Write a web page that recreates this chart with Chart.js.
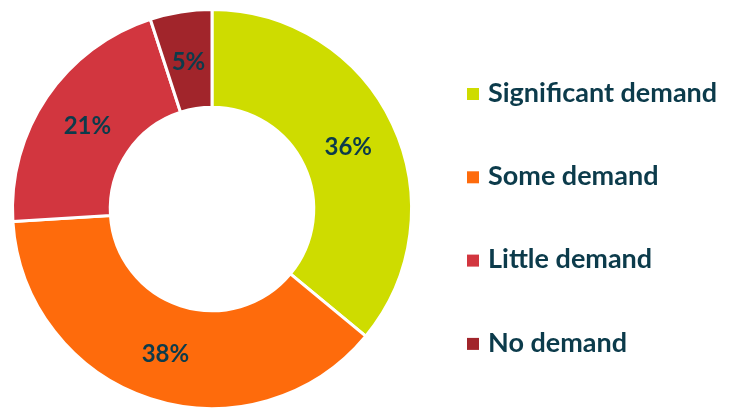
<!DOCTYPE html>
<html>
<head>
<meta charset="utf-8">
<script src="https://cdn.jsdelivr.net/npm/chart.js@4"></script>
<style>
  html, body { margin: 0; padding: 0; background: #ffffff; }
  #wrap { width: 736px; height: 410px; position: relative; }
</style>
</head>
<body>
<div id="wrap"><canvas id="myChart"></canvas></div>
<script>
const categories = ['Significant demand', 'Some demand', 'Little demand', 'No demand'];
const shares = [36, 38, 21, 5];
const sliceColors = ['#cedc00', '#fe6b0c', '#d2363f', '#a1252b'];
const textColor = '#0c3b4b';

// percent labels in the middle of each slice
const sliceLabels = {
  id: 'sliceLabels',
  afterDatasetsDraw(chart) {
    const ctx = chart.ctx;
    const meta = chart.getDatasetMeta(0);
    ctx.save();
    ctx.font = 'bold 24px Lato';
    ctx.fillStyle = textColor;
    ctx.textAlign = 'center';
    ctx.textBaseline = 'middle';
    meta.data.forEach((arc, i) => {
      const p = arc.getCenterPoint();
      ctx.fillText(shares[i] + '%', p.x, p.y + 2);
    });
    ctx.restore();
  }
};

// legend on the right, spaced like the original
const sideLegend = {
  id: 'sideLegend',
  afterDraw(chart) {
    const ctx = chart.ctx;
    const top = 94, step = 83.3;
    ctx.save();
    ctx.font = 'bold 27px Lato';
    ctx.textBaseline = 'middle';
    ctx.textAlign = 'left';
    categories.forEach((name, i) => {
      const y = top + i * step;
      ctx.fillStyle = sliceColors[i];
      ctx.fillRect(467, y - 6, 12, 12);
      ctx.fillStyle = textColor;
      ctx.fillText(name, 488, y - 1);
    });
    ctx.restore();
  }
};

new Chart(document.getElementById('myChart'), {
  type: 'doughnut',
  data: {
    labels: categories,
    datasets: [{
      data: shares,
      backgroundColor: sliceColors,
      borderColor: '#ffffff',
      borderWidth: 3,
      hoverOffset: 0
    }]
  },
  options: {
    responsive: true,
    maintainAspectRatio: false,
    animation: false,
    cutout: '51%',
    layout: { padding: { left: 9, right: 321, top: 8, bottom: -4 } },
    plugins: {
      legend: { display: false },
      tooltip: { enabled: false }
    }
  },
  plugins: [sliceLabels, sideLegend]
});
</script>
</body>
</html>
